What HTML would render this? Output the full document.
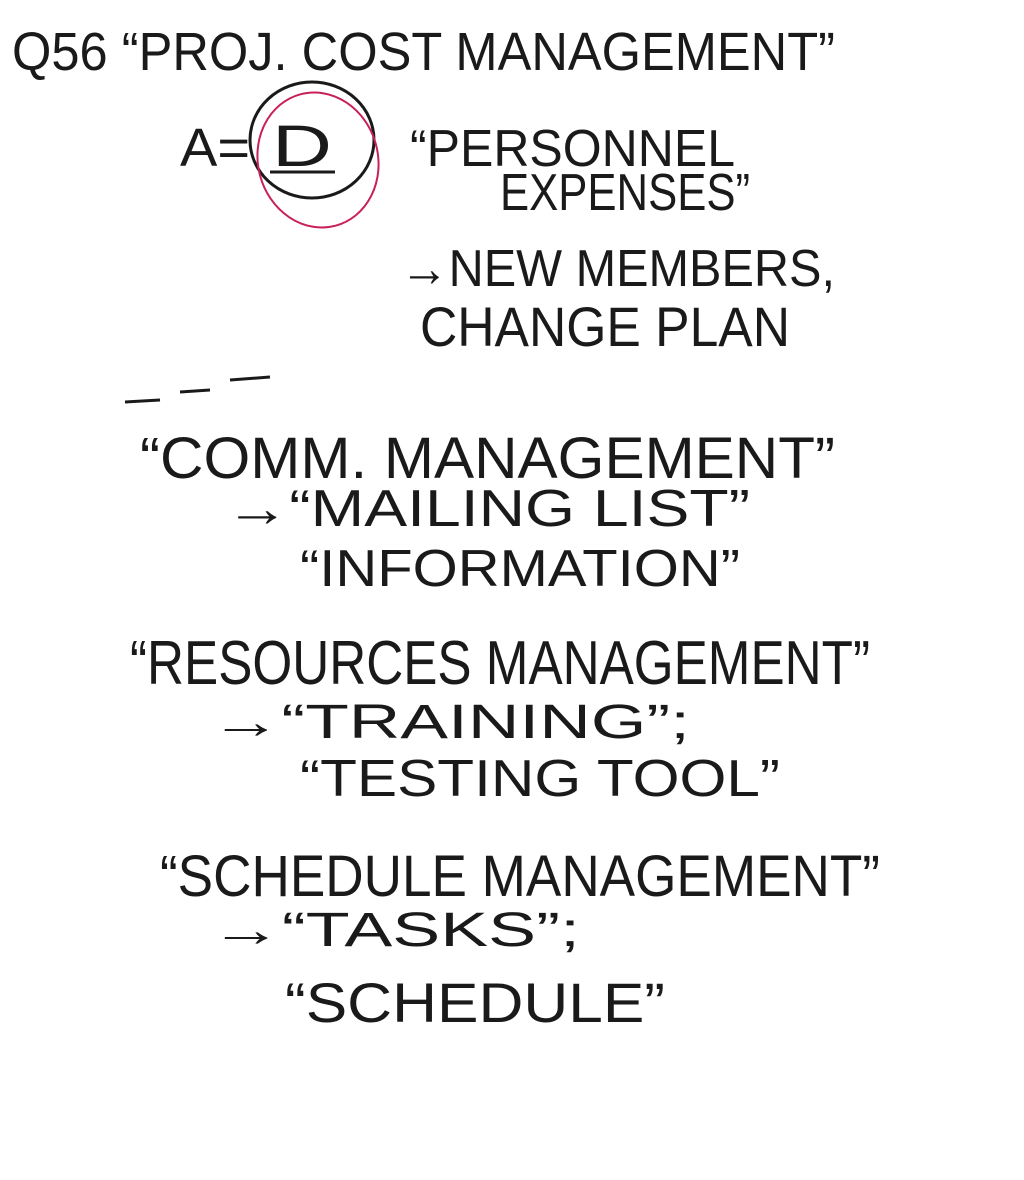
<!DOCTYPE html>
<html><head><meta charset="utf-8">
<style>
html,body{margin:0;padding:0;background:#fff;}
svg{display:block;}
text{font-family:"Liberation Sans",sans-serif;fill:#1a1a1a;}
</style></head>
<body>
<svg width="1024" height="1180" viewBox="0 0 1024 1180" xmlns="http://www.w3.org/2000/svg">
<rect width="1024" height="1180" fill="#fff"/>
<text x="12" y="70" font-size="54" textLength="823" lengthAdjust="spacingAndGlyphs">Q56 “PROJ. COST MANAGEMENT”</text>
<text x="180" y="166" font-size="54" textLength="70" lengthAdjust="spacingAndGlyphs">A=</text>
<ellipse cx="312" cy="140" rx="62" ry="58" fill="none" stroke="#1a1a1a" stroke-width="3"/>
<ellipse cx="318" cy="160" rx="60" ry="68" fill="none" stroke="#c8205a" stroke-width="2" transform="rotate(-15 318 160)"/>
<text x="272" y="166" font-size="58" textLength="60" lengthAdjust="spacingAndGlyphs">D</text>
<line x1="270" y1="172" x2="335" y2="172" stroke="#1a1a1a" stroke-width="3"/>
<text x="410" y="166" font-size="52" textLength="325" lengthAdjust="spacingAndGlyphs">“PERSONNEL</text>
<text x="500" y="210" font-size="52" textLength="250" lengthAdjust="spacingAndGlyphs">EXPENSES”</text>
<text x="400" y="286" font-size="52" textLength="435" lengthAdjust="spacingAndGlyphs">→NEW MEMBERS,</text>
<text x="420" y="346" font-size="56" textLength="370" lengthAdjust="spacingAndGlyphs">CHANGE PLAN</text>
<line x1="125" y1="402" x2="160" y2="400" stroke="#1a1a1a" stroke-width="3"/>
<line x1="180" y1="392" x2="210" y2="390" stroke="#1a1a1a" stroke-width="3"/>
<line x1="230" y1="380" x2="270" y2="377" stroke="#1a1a1a" stroke-width="3"/>
<text x="140" y="478" font-size="58" textLength="695" lengthAdjust="spacingAndGlyphs">“COMM. MANAGEMENT”</text>
<text x="225" y="526" font-size="52" textLength="525" lengthAdjust="spacingAndGlyphs">→“MAILING LIST”</text>
<text x="300" y="586" font-size="52" textLength="440" lengthAdjust="spacingAndGlyphs">“INFORMATION”</text>
<text x="130" y="684" font-size="62" textLength="740" lengthAdjust="spacingAndGlyphs">“RESOURCES MANAGEMENT”</text>
<text x="210" y="738" font-size="48" textLength="480" lengthAdjust="spacingAndGlyphs">→“TRAINING”;</text>
<text x="300" y="796" font-size="52" textLength="480" lengthAdjust="spacingAndGlyphs">“TESTING TOOL”</text>
<text x="160" y="896" font-size="58" textLength="720" lengthAdjust="spacingAndGlyphs">“SCHEDULE MANAGEMENT”</text>
<text x="210" y="946" font-size="48" textLength="370" lengthAdjust="spacingAndGlyphs">→“TASKS”;</text>
<text x="285" y="1022" font-size="56" textLength="380" lengthAdjust="spacingAndGlyphs">“SCHEDULE”</text>
</svg>
</body></html>
